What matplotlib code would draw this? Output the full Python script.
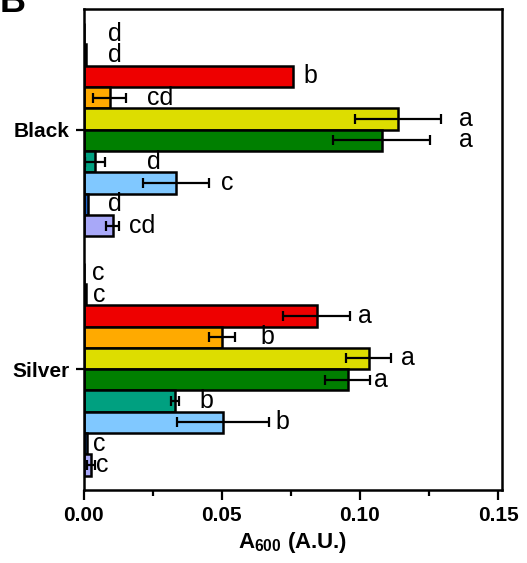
import matplotlib
matplotlib.use("Agg")
import matplotlib.pyplot as plt
import numpy as np

plt.rcParams['font.family'] = ['Liberation Sans', 'DejaVu Sans']
plt.rcParams['mathtext.fontset'] = 'custom'
plt.rcParams['mathtext.bf'] = 'Liberation Sans:bold'
plt.rcParams['mathtext.rm'] = 'Liberation Sans'

# groups, bottom to top on the axis
groups = ["Silver", "Black"]

# bar colours, top bar of each group first
colors = ['#FFFFFF', '#000000', '#EE0000', '#FFAA00', '#DDDD00',
          '#007F00', '#00A080', '#80C8FF', '#1E64C8', '#A8A8F8']

# A600 values, top bar first
silver_vals = [0.0, 0.0008, 0.0843, 0.0501, 0.1032, 0.0955, 0.0330, 0.0505, 0.0010, 0.0025]
silver_err = [0.0, 0.0, 0.0120, 0.0047, 0.0082, 0.0083, 0.0015, 0.0167, 0.0, 0.0015]
silver_letters = ['c', 'c', 'a', 'b', 'a', 'a', 'b', 'b', 'c', 'c']
silver_lx = [0.0029, 0.0033, 0.0992, 0.0640, 0.1148, 0.1050, 0.0418, 0.0694, 0.0033, 0.0044]

black_vals = [0.0, 0.0007, 0.0759, 0.0094, 0.1137, 0.1079, 0.0040, 0.0334, 0.0015, 0.0105]
black_err = [0.0, 0.0, 0.0, 0.0060, 0.0156, 0.0176, 0.0036, 0.0120, 0.0, 0.0023]
black_letters = ['d', 'd', 'b', 'cd', 'a', 'a', 'd', 'c', 'd', 'cd']
black_lx = [0.0087, 0.0087, 0.0795, 0.0229, 0.1359, 0.1359, 0.0229, 0.0498, 0.0087, 0.0163]

fig = plt.figure(figsize=(5.27, 5.63), dpi=100)
ax = fig.add_axes([0.159, 0.130, 0.794, 0.854])

h = 0.089
n = len(colors)
offsets = (np.arange(n)[::-1] - (n - 1) / 2.0) * h

data = [(silver_vals, silver_err, silver_letters, silver_lx),
        (black_vals, black_err, black_letters, black_lx)]

for gi, (vals, errs, letters, lx) in enumerate(data):
    ys = gi + offsets
    ax.barh(ys, vals, height=h, color=colors, edgecolor='black', linewidth=1.8, zorder=2)
    for y, v, e in zip(ys, vals, errs):
        if e > 0:
            ax.errorbar(v, y, xerr=e, fmt='none', ecolor='black', elinewidth=1.6,
                        capsize=3.8, capthick=1.6, zorder=3)
    for y, t, x in zip(ys, letters, lx):
        ax.text(x, y, t, fontsize=18, ha='left', va='center', zorder=4)

ax.set_xlim(0, 0.1515)
ax.set_ylim(-0.504, 1.504)
ax.set_yticks([0, 1])
ax.set_yticklabels(groups, fontsize=15, fontweight='bold')
ax.set_xticks([0, 0.05, 0.10, 0.15])
ax.set_xticklabels(['0.00', '0.05', '0.10', '0.15'], fontsize=15, fontweight='bold')
ax.set_xticks([0.025, 0.075, 0.125], minor=True)
ax.tick_params(axis='x', which='major', length=7, width=1.6, direction='out', pad=5)
ax.tick_params(axis='x', which='minor', length=4, width=1.6, direction='out')
ax.tick_params(axis='y', length=6, width=1.6, direction='out', pad=4)
for s in ax.spines.values():
    s.set_linewidth(1.8)
ax.set_xlabel(r'$\mathbf{A_{600}}$ (A.U.)', fontsize=16, fontweight='bold', labelpad=3)

fig.text(0.0, 0.995, 'B', fontsize=26, fontweight='bold', ha='left', va='center')

fig.savefig('out.png', dpi=100)
